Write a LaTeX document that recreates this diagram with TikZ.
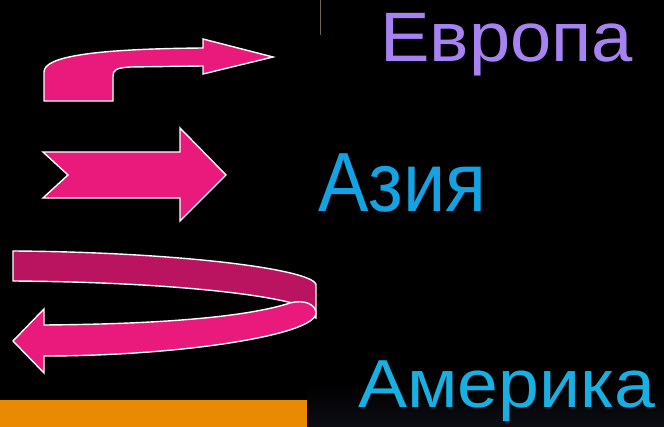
\documentclass[tikz,border=0pt]{standalone}
\usepackage{fontspec}
\setmainfont{Liberation Sans}
\newfontfamily\europafont[FakeStretch=1.06]{Liberation Sans}
\newfontfamily\asiafont[FakeStretch=0.9]{Liberation Sans}
\newfontfamily\americafont[FakeStretch=1.08]{Liberation Sans}
\definecolor{arrowpink}{HTML}{E91A7B}
\definecolor{arrowdark}{HTML}{BA1461}
\definecolor{barorange}{HTML}{E98A02}
\definecolor{stickbrown}{HTML}{72665A}
\definecolor{floorgray}{HTML}{0D0E14}
\definecolor{europacol}{HTML}{A783F2}
\definecolor{asiacol}{HTML}{14A2E2}
\definecolor{americacol}{HTML}{18B0E2}
\begin{document}
\begin{tikzpicture}[x=1pt, y=-1pt,
  arrow shape/.style={fill=arrowpink, draw=white, line width=1.4pt, line join=miter},
  arrow back/.style={arrow shape, fill=arrowdark},
  place node/.style={inner sep=0pt, anchor=base west}]
\fill[black] (0,0) rectangle (664,427);
\useasboundingbox (0,0) rectangle (664,427);
\shade[top color=black, bottom color=floorgray] (307,385) rectangle (664,427);
\fill[barorange] (0,400) rectangle (307,427);
\draw[stickbrown, line width=0.8pt] (320.5,0) -- (320.5,35);
% arrows
\draw[arrow shape] (44,101) -- (44,72) .. controls (44,57) and (90,49) .. (203,48) -- (203,39) -- (273,57) -- (203,74) -- (203,66) -- (130,67) .. controls (116,68) and (113,70) .. (113,76) -- (113,101) -- cycle;
\draw[arrow shape] (43,152) -- (180,152) -- (180,128) -- (226,175) -- (180,221) -- (180,198) -- (43,198) -- (68,175) -- cycle;
\draw[arrow back] (13,281) -- (13,251) .. controls (160,252) and (290,266) .. (313,281) .. controls (316,283) .. (316,288) -- (316,318) -- (292,303) .. controls (250,292) and (150,282) .. (13,281) -- cycle;
\draw[arrow shape] (44,309) -- (44,325) .. controls (170,324) and (250,316) .. (290,303) .. controls (305,299) and (316,305) .. (316,313) .. controls (316,335) and (180,356) .. (44,356) -- (44,373) -- (13,341) -- cycle;
% places
\node[place node, text=europacol, font=\europafont\fontsize{70}{70}\selectfont] (europa) at (380,62) {Европа};
\node[place node, text=asiacol, font=\asiafont\fontsize{84}{84}\selectfont] (asia) at (318,212) {Азия};
\node[place node, text=americacol, font=\americafont\fontsize{68}{68}\selectfont] (america) at (358,407) {Америка};
\end{tikzpicture}
\end{document}
